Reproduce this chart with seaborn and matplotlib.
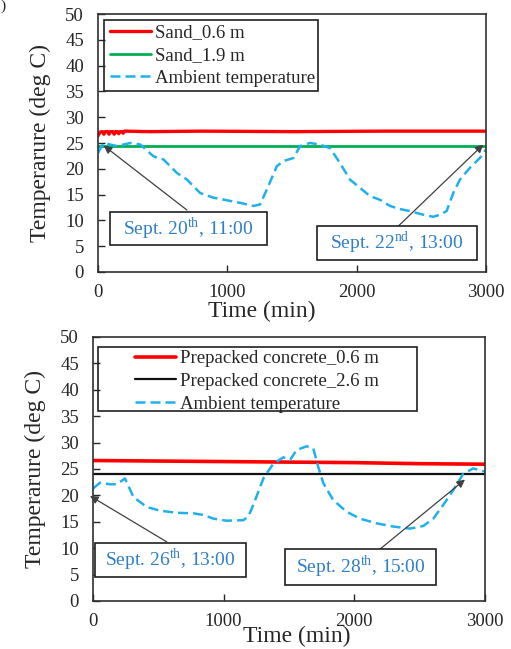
import numpy as np
import pandas as pd
import matplotlib
matplotlib.use('Agg')
import matplotlib.pyplot as plt
from matplotlib.patches import Rectangle
import seaborn as sns

# ---- top panel: sand ----
amb1_t = [0, 44, 147, 250, 327, 430, 507, 610, 688, 790, 893, 997, 1100, 1203, 1254,
          1306, 1383, 1434, 1512, 1563, 1640, 1717, 1795, 1872, 1949, 2027, 2104, 2181,
          2259, 2336, 2413, 2516, 2593, 2645, 2696, 2748, 2799, 2877, 2954, 3000]
amb1_T = [23.1, 25.0, 24.4, 25.0, 24.7, 22.4, 21.8, 19.2, 17.9, 15.3, 14.4, 13.9, 13.4, 12.8, 13.1,
          16.0, 20.5, 21.5, 22.1, 24.4, 25.0, 24.7, 24.0, 21.1, 17.9, 16.3, 14.7, 14.0,
          12.8, 12.2, 11.8, 11.1, 10.7, 11.1, 11.8, 15.3, 17.9, 20.2, 22.1, 23.7]
sand06_t = [0, 15, 35, 45, 55, 75, 85, 95, 115, 125, 135, 150, 160, 170, 185, 195, 205,
            400, 800, 1500, 2200, 3000]
sand06_T = [26.4, 27.1, 27.2, 26.7, 27.2, 27.2, 26.7, 27.2, 27.2, 26.7, 27.2, 27.2, 26.8, 27.2,
            27.2, 26.9, 27.3, 27.2, 27.3, 27.2, 27.3, 27.3]
sand19_t = [0, 3000]
sand19_T = [24.4, 24.4]

# ---- bottom panel: prepacked concrete ----
amb2_t = [0, 54, 130, 181, 245, 309, 411, 513, 640, 768, 844, 921, 1023, 1150, 1189, 1227,
          1304, 1380, 1457, 1508, 1559, 1635, 1686, 1724, 1763, 1839, 1941, 2043, 2171,
          2298, 2426, 2528, 2605, 2681, 2758, 2834, 2911, 3000]
amb2_T = [21.3, 22.4, 22.1, 22.1, 23.2, 19.7, 17.8, 17.1, 16.7, 16.6, 16.3, 15.6, 15.2, 15.3, 16.0, 18.2,
          23.2, 26.0, 27.2, 26.7, 28.6, 29.3, 28.9, 25.4, 22.3, 19.1, 16.9, 15.6, 14.7,
          14.1, 13.7, 14.2, 15.6, 18.2, 21.0, 24.1, 25.1, 24.5]
pc06_t = [0, 500, 1000, 1500, 2000, 2500, 3000]
pc06_T = [26.6, 26.5, 26.4, 26.3, 26.2, 26.0, 25.9]
pc26_t = [0, 3000]
pc26_T = [24.0, 24.0]

# annotations: (text, arrow head, arrow tail, box x0, y0, w, h)
notes_top = [
    ("Sept. 20$^{\\mathrm{th}}$, 11:00", (44, 24.5), (688, 12.0), (95, 5.2, 1210, 6.5)),
    ("Sept. 22$^{\\mathrm{nd}}$, 13:00", (2980, 24.7), (2323, 8.9), (1697, 2.3, 1231, 6.6)),
]
notes_bot = [
    ("Sept. 26$^{\\mathrm{th}}$, 13:00", (-23, 19.9), (564, 11.2), (15, 4.5, 1153, 6.5)),
    ("Sept. 28$^{\\mathrm{th}}$, 15:00", (2847, 23.0), (2196, 9.8), (1469, 3.0, 1156, 6.8)),
]

sns.set_style("white")
plt.rcParams['font.family'] = ['Liberation Serif', 'DejaVu Serif']
plt.rcParams['mathtext.fontset'] = 'custom'
plt.rcParams['mathtext.rm'] = 'Liberation Serif'

AMB = "#1FB0EE"
TXT = "#2E7FC8"

fig = plt.figure(figsize=(5.11, 6.49), dpi=100)
ax1 = fig.add_axes([0.1918, 0.5809, 0.759, 0.3975])
ax2 = fig.add_axes([0.182, 0.074, 0.767, 0.4068])


def draw(ax, series, notes, legend_box, legend_anchor, xlabel_x, xlabel_pad):
    for t, T, color, lw, ls, label in series:
        df = pd.DataFrame({"t": t, "T": T})
        sns.lineplot(data=df, x="t", y="T", ax=ax, color=color, linewidth=lw,
                     linestyle=ls, label=label, sort=False)
    ax.set_xlim(0, 3000)
    ax.set_ylim(0, 50)
    ax.set_xticks([0, 1000, 2000, 3000])
    ax.set_yticks(range(0, 51, 5))
    ax.tick_params(direction='in', length=5, width=1, labelsize=13.5,
                   bottom=True, left=True, top=False, right=False)
    ax.tick_params(axis='x', pad=9)
    ax.tick_params(axis='y', pad=10)
    for s in ax.spines.values():
        s.set_color('#303030')
        s.set_linewidth(1.2)
    ax.set_ylabel("Temperarure (deg C)", fontsize=17, labelpad=10)
    ax.set_xlabel("Time (min)", fontsize=17, labelpad=xlabel_pad)
    ax.xaxis.label.set_x(xlabel_x)

    ax.legend(loc='upper left', bbox_to_anchor=legend_anchor, frameon=False,
              fontsize=13.5, handlelength=2.2, handletextpad=0.2,
              labelspacing=0.3, borderaxespad=0, borderpad=0)
    x0, y0, w, h = legend_box
    ax.add_patch(Rectangle((x0, y0), w, h, transform=ax.transAxes, fill=False,
                           edgecolor='#202020', linewidth=1.2, zorder=5))

    for text, head, tail, box in notes:
        ax.annotate("", xy=head, xytext=tail, annotation_clip=False,
                    arrowprops=dict(arrowstyle='-|>', color='#404040', lw=0.9,
                                    mutation_scale=12, shrinkA=0, shrinkB=0), zorder=6)
        bx, by, bw, bh = box
        ax.add_patch(Rectangle((bx, by), bw, bh, facecolor='white', edgecolor='#202020',
                               linewidth=1.2, zorder=7, clip_on=False))
        ax.text(bx + bw / 2, by + bh / 2, text, ha='center', va='center',
                fontsize=14, color=TXT, zorder=8)


draw(ax1,
     [(sand06_t, sand06_T, "#FF0000", 2.4, '-', "Sand_0.6 m"),
      (sand19_t, sand19_T, "#00B050", 2.0, '-', "Sand_1.9 m"),
      (amb1_t, amb1_T, AMB, 1.8, (0, (4, 2)), "Ambient temperature")],
     notes_top,
     (0.016, 0.703, 0.552, 0.274),
     (0.03, 0.96),
     0.423, -0.5)

draw(ax2,
     [(pc06_t, pc06_T, "#FF0000", 2.6, '-', "Prepacked concrete_0.6 m"),
      (pc26_t, pc26_T, "#111111", 1.6, '-', "Prepacked concrete_2.6 m"),
      (amb2_t, amb2_T, AMB, 1.8, (0, (4, 2)), "Ambient temperature")],
     notes_bot,
     (0.013, 0.718, 0.814, 0.244),
     (0.106, 0.95),
     0.52, -3)

fig.text(0.0, 1.0, ")", ha='left', va='top', fontsize=11)

fig.savefig("out.png", dpi=100)
